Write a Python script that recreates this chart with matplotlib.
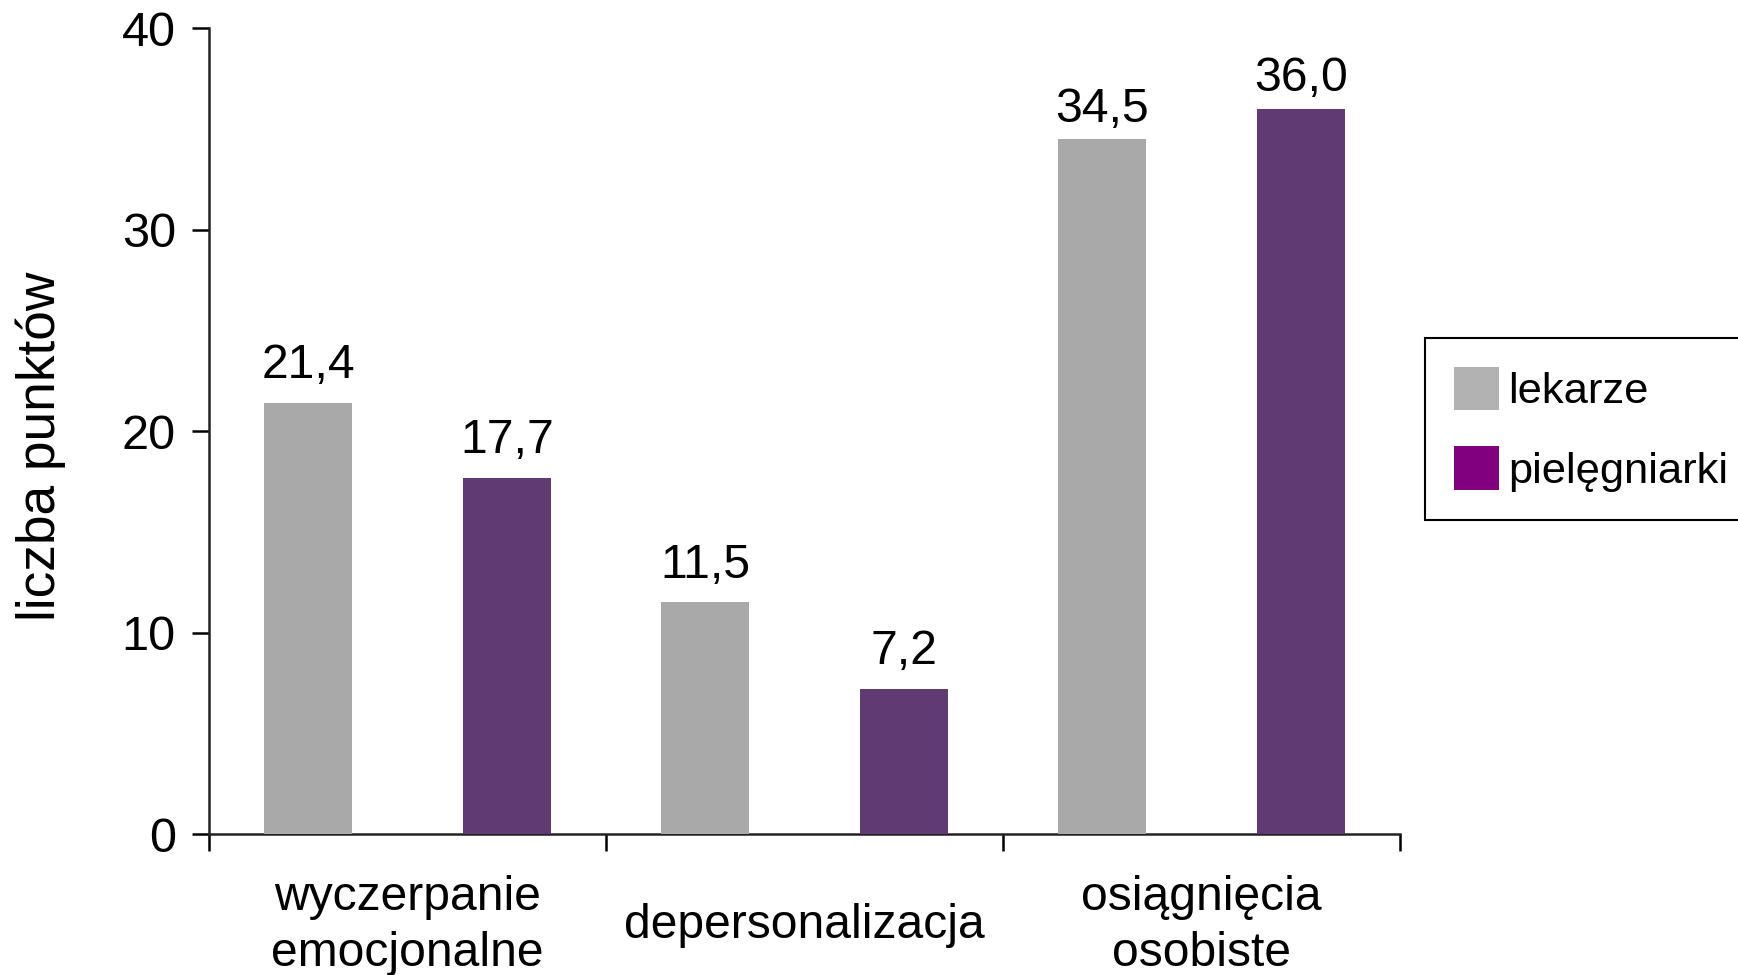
import numpy as np
import matplotlib
matplotlib.use("Agg")
import matplotlib.pyplot as plt
from matplotlib.patches import Patch

plt.rcParams['font.family'] = ['Liberation Sans', 'DejaVu Sans']

# data
categories = ['wyczerpanie\nemocjonalne', 'depersonalizacja', 'osiągnięcia\nosobiste']
lekarze = [21.4, 11.5, 34.5]
pielegniarki = [17.7, 7.2, 36.0]
series_names = ['lekarze', 'pielęgniarki']
y_ticks = [0, 10, 20, 30, 40]

gray = '#a9a9a9'
purple = '#5f3a73'

fig = plt.figure(figsize=(17.38, 9.75), dpi=100)
ax = fig.add_axes([0.1203, 1 - 834 / 975, 0.6852, (834 - 28.5) / 975])

x = np.arange(len(categories))
w = 0.222
b1 = ax.bar(x - 0.25, lekarze, w, color=gray, zorder=3)
b2 = ax.bar(x + 0.25, pielegniarki, w, color=purple, zorder=3)

# value labels with comma as decimal separator
# (labels on the tall bars sit a bit closer so they stay inside the plot)
for bars, vals in ((b1, lekarze), (b2, pielegniarki)):
    for r, v in zip(bars, vals):
        off = 10.5 if v < 30 else 5.5
        ax.annotate(f'{v:.1f}'.replace('.', ','),
                    (r.get_x() + r.get_width() / 2, v),
                    xytext=(0, off), textcoords='offset points',
                    ha='center', va='bottom', fontsize=34.7)

ax.set_xlim(-0.5, len(categories) - 0.5)
ax.set_ylim(0, 40)
ax.set_yticks(y_ticks)
ax.tick_params(axis='y', labelsize=35, length=12, width=1.8, pad=12, direction='out')

# labels at category centres, ticks at boundaries
ax.set_xticks(x)
ax.set_xticklabels(categories, fontsize=34.6, linespacing=1.33)
ax.tick_params(axis='x', which='major', length=0, pad=66)
for lab in ax.get_xticklabels():
    lab.set_verticalalignment('center')
    lab.set_multialignment('center')
ax.set_xticks(np.arange(len(categories) + 1) - 0.5, minor=True)
ax.tick_params(axis='x', which='minor', length=12, width=1.8, direction='out')

for s in ['top', 'right']:
    ax.spines[s].set_visible(False)
for s in ['left', 'bottom']:
    ax.spines[s].set_linewidth(1.8)
    ax.spines[s].set_color('#222222')

fig.text(41 / 1738, 1 - 446 / 975, 'liczba punktów', rotation=90,
         ha='center', va='center', fontsize=38.3)

handles = [Patch(facecolor='#b2b2b2'), Patch(facecolor='#800080')]
leg = fig.legend(handles, series_names, loc='upper left',
                 bbox_to_anchor=(1425 / 1738, 1 - 338 / 975),
                 fontsize=31.3, frameon=True, fancybox=False,
                 edgecolor='black', framealpha=1,
                 handlelength=1.05, handleheight=1.17, handletextpad=0.2,
                 borderpad=0.66, labelspacing=0.78, borderaxespad=0)
leg.get_frame().set_linewidth(1.5)

fig.savefig('out.png', dpi=100)
